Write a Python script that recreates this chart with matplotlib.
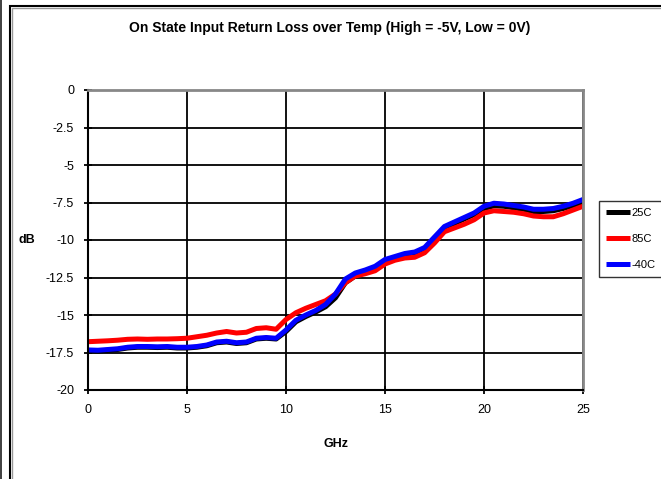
import matplotlib
matplotlib.use("Agg")
import matplotlib.pyplot as plt
from matplotlib.patches import Rectangle

plt.rcParams['font.family'] = ['Liberation Sans', 'DejaVu Sans']

# frequency points (GHz)
freq = [0, 0.5, 1, 1.5, 2, 2.5, 3, 3.5, 4, 4.5, 5, 5.5, 6, 6.5, 7, 7.5, 8, 8.5, 9, 9.5,
        10, 10.5, 11, 11.5, 12, 12.5, 13, 13.5, 14, 14.5, 15, 15.5, 16, 16.5, 17, 17.5,
        18, 18.5, 19, 19.5, 20, 20.5, 21, 21.5, 22, 22.5, 23, 23.5, 24, 24.5, 25]

# return loss (dB) per temperature
rl_25c = [-17.38, -17.4, -17.35, -17.3, -17.2, -17.15, -17.15, -17.17, -17.15, -17.2,
          -17.2, -17.15, -17.05, -16.85, -16.8, -16.9, -16.85, -16.6, -16.55, -16.6,
          -16.1, -15.45, -15.1, -14.8, -14.45, -13.85, -12.85, -12.4, -12.1, -11.85,
          -11.4, -11.2, -11.0, -10.9, -10.6, -9.9, -9.2, -8.9, -8.6, -8.3,
          -7.9, -7.72, -7.75, -7.85, -7.95, -8.1, -8.1, -8.05, -7.9, -7.7, -7.45]
rl_85c = [-16.78, -16.75, -16.72, -16.68, -16.62, -16.6, -16.62, -16.6, -16.6, -16.58,
          -16.55, -16.45, -16.35, -16.2, -16.1, -16.2, -16.15, -15.9, -15.85, -15.95,
          -15.3, -14.85, -14.55, -14.3, -14.05, -13.6, -12.85, -12.4, -12.25, -12.05,
          -11.6, -11.35, -11.2, -11.15, -10.85, -10.2, -9.45, -9.2, -8.95, -8.65,
          -8.2, -8.05, -8.1, -8.15, -8.25, -8.4, -8.45, -8.45, -8.25, -8.0, -7.75]
rl_m40c = [-17.33, -17.35, -17.3, -17.25, -17.15, -17.1, -17.1, -17.12, -17.1, -17.15,
           -17.15, -17.1, -17.0, -16.8, -16.75, -16.85, -16.8, -16.55, -16.5, -16.55,
           -16.0, -15.35, -15.0, -14.7, -14.3, -13.6, -12.6, -12.2, -12.0, -11.75,
           -11.3, -11.1, -10.9, -10.8, -10.5, -9.8, -9.1, -8.8, -8.5, -8.2,
           -7.75, -7.55, -7.6, -7.7, -7.8, -7.95, -7.95, -7.9, -7.75, -7.55, -7.3]

labels = ['25C', '85C', '-40C']
colors = ['black', 'red', 'blue']

W, H = 661, 479
fig = plt.figure(figsize=(W / 100, H / 100), dpi=100)

# outer chart frame
fig.patches.append(Rectangle((10 / W, -0.05), 1.1, 1 - 6 / H + 0.05, transform=fig.transFigure,
                             fill=False, edgecolor='black', linewidth=1.5))
fig.patches.append(Rectangle((12 / W, -0.05), 1.1, 1 - 8 / H + 0.05, transform=fig.transFigure,
                             fill=False, edgecolor='#999999', linewidth=1.0))
fig.patches.append(Rectangle((0, 0), 1.5 / W, 1, transform=fig.transFigure,
                             facecolor='#444444', edgecolor='none'))

ax = fig.add_axes([88 / W, 1 - 390 / H, (583 - 88) / W, 300 / H])

for y, lab, c in zip([rl_25c, rl_85c, rl_m40c], labels, colors):
    ax.plot(freq, y, color=c, linewidth=3.6, label=lab, solid_capstyle='butt')

ax.set_xlim(0, 25)
ax.set_ylim(-20, 0)
ax.set_xticks([0, 5, 10, 15, 20, 25])
ax.set_yticks([0, -2.5, -5, -7.5, -10, -12.5, -15, -17.5, -20])
ax.set_yticklabels(['0', '-2.5', '-5', '-7.5', '-10', '-12.5', '-15', '-17.5', '-20'])
ax.grid(True, color='black', linewidth=1.3)
ax.set_axisbelow(True)

for side in ['left', 'bottom']:
    ax.spines[side].set_linewidth(1.5)
    ax.spines[side].set_color('black')
for side in ['top', 'right']:
    ax.spines[side].set_linewidth(2)
    ax.spines[side].set_color('#888888')

ax.tick_params(direction='inout', length=6, width=1.3, labelsize=9, pad=7)

ax.set_xlabel('GHz', fontsize=9, fontweight='bold', labelpad=16)
ax.set_ylabel('dB', fontsize=9, fontweight='bold', rotation=0, labelpad=14, va='center')
fig.text(330 / W, 1 - 28 / H, 'On State Input Return Loss over Temp (High = -5V, Low = 0V)',
         ha='center', va='center', fontsize=10, fontweight='bold')

leg = ax.legend(loc='upper left', bbox_to_anchor=(599 / W, 1 - 201 / H),
                bbox_transform=fig.transFigure, fontsize=8, frameon=True, fancybox=False,
                handlelength=2.2, handletextpad=0.1, labelspacing=1.45, borderpad=0.6,
                borderaxespad=0)
leg.get_frame().set_edgecolor('black')
leg.get_frame().set_linewidth(1.0)

fig.savefig('out.png', dpi=100)
